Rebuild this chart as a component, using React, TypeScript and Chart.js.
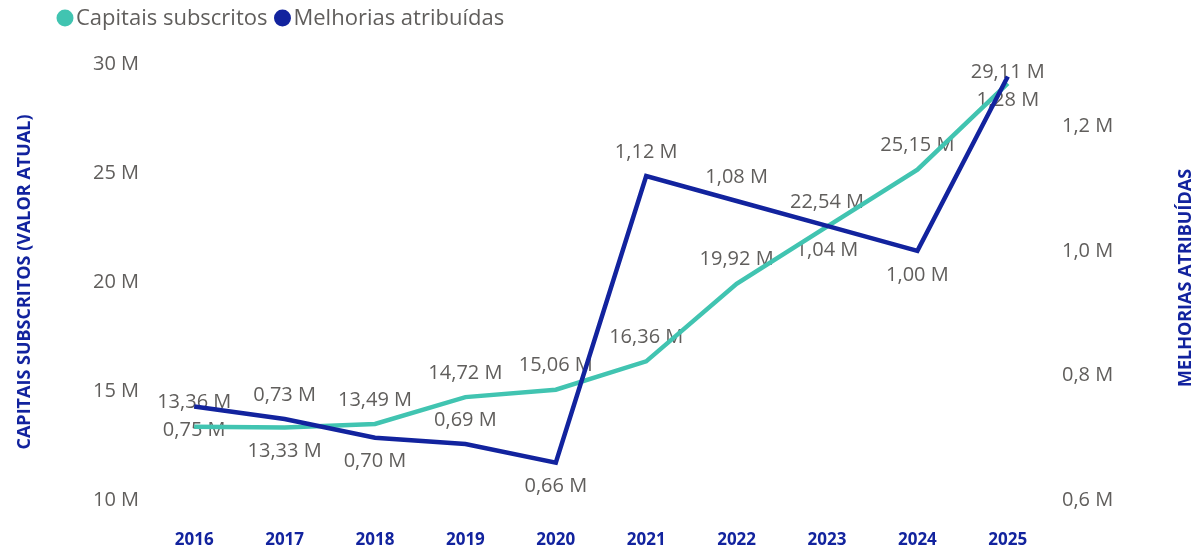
import React, { useEffect, useRef } from "react";
import { Chart, registerables } from "chart.js";

Chart.register(...registerables);

const years = ["2016", "2017", "2018", "2019", "2020", "2021", "2022", "2023", "2024", "2025"];
const capitais = [13.36, 13.33, 13.49, 14.72, 15.06, 16.36, 19.92, 22.54, 25.15, 29.11];
const melhorias = [0.75, 0.73, 0.7, 0.69, 0.66, 1.12, 1.08, 1.04, 1.0, 1.28];
// +1 = label below the point, -1 = label above
const capitaisLabelSide = [-1, 1, -1, -1, -1, -1, -1, -1, -1, -1];
const melhoriasLabelSide = [1, -1, 1, -1, 1, -1, -1, 1, 1, 1];
const leftTicks = [10, 15, 20, 25, 30];
const rightTicks = [0.6, 0.8, 1.0, 1.2];
const seriesNames = ["Capitais subscritos", "Melhorias atribuídas"];
const leftTitle = "CAPITAIS SUBSCRITOS (VALOR ATUAL)";
const rightTitle = "MELHORIAS ATRIBUÍDAS";

const TEAL = "#41C4B1";
const NAVY = "#12239E";
const GREY = "#605E5C";
const FONT = "'Open Sans', 'Noto Sans', sans-serif";

const fmt2 = (v: number) => v.toFixed(2).replace(".", ",") + " M";
const fmtRight = (v: number) => v.toFixed(1).replace(".", ",") + " M";

const overlayPlugin = {
  id: "overlay",
  beforeDatasetsDraw(chart: any) {
    const ctx = chart.ctx;
    const area = chart.chartArea;
    ctx.save();
    ctx.font = `20px ${FONT}`;
    ctx.fillStyle = GREY;
    ctx.textAlign = "center";
    ctx.textBaseline = "middle";
    chart.data.datasets.forEach((ds: any, di: number) => {
      const meta = chart.getDatasetMeta(di);
      const sides = di === 0 ? capitaisLabelSide : melhoriasLabelSide;
      meta.data.forEach((el: any, i: number) => {
        let y = el.y + sides[i] * 24;
        if (y < area.top + 8) y = area.top + 8;
        ctx.fillText(fmt2(ds.data[i]), el.x, y);
      });
    });
    ctx.restore();
  },
  afterDraw(chart: any) {
    const ctx = chart.ctx;
    const area = chart.chartArea;
    ctx.save();
    // legend
    ctx.font = `22px ${FONT}`;
    ctx.textBaseline = "middle";
    ctx.textAlign = "left";
    let x = 65;
    const ly = 19;
    [TEAL, NAVY].forEach((c, i) => {
      ctx.beginPath();
      ctx.fillStyle = c;
      ctx.arc(x, ly - 1, 8.5, 0, Math.PI * 2);
      ctx.fill();
      ctx.fillStyle = GREY;
      ctx.fillText(seriesNames[i], x + 11, ly);
      x = x + 11 + ctx.measureText(seriesNames[i]).width + 15;
    });
    // axis titles
    ctx.font = `bold 18px ${FONT}`;
    ctx.fillStyle = NAVY;
    ctx.textAlign = "center";
    ctx.textBaseline = "middle";
    const cy = (area.top + area.bottom) / 2;
    ctx.save();
    ctx.translate(25, cy);
    ctx.rotate(-Math.PI / 2);
    ctx.fillText(leftTitle, 0, 0);
    ctx.restore();
    ctx.save();
    ctx.translate(1186, cy - 4);
    ctx.rotate(-Math.PI / 2);
    ctx.fillText(rightTitle, 0, 0);
    ctx.restore();
    ctx.restore();
  },
};

export default function App() {
  const ref = useRef<HTMLCanvasElement | null>(null);
  useEffect(() => {
    if (!ref.current) return;
    const chart = new Chart(ref.current, {
      type: "line",
      data: {
        labels: years,
        datasets: [
          {
            label: seriesNames[0],
            data: capitais,
            borderColor: TEAL,
            backgroundColor: TEAL,
            borderWidth: 4.5,
            pointRadius: 0,
            tension: 0,
            yAxisID: "y",
            order: 1,
          },
          {
            label: seriesNames[1],
            data: melhorias,
            borderColor: NAVY,
            backgroundColor: NAVY,
            borderWidth: 4.5,
            pointRadius: 0,
            tension: 0,
            yAxisID: "y1",
            order: 0,
          },
        ],
      },
      options: {
        responsive: false,
        animation: false,
        devicePixelRatio: 1,
        layout: { padding: { top: 64, left: 0, right: 0, bottom: 0 } },
        plugins: { legend: { display: false }, tooltip: { enabled: false } },
        scales: {
          x: {
            type: "category",
            offset: true,
            grid: { display: false, drawTicks: false },
            border: { display: false },
            ticks: {
              color: NAVY,
              font: { family: FONT, size: 17, weight: "bold" },
              padding: 30,
              maxRotation: 0,
            },
            afterFit: (s: any) => {
              s.height = 49;
            },
          },
          y: {
            type: "linear",
            position: "left",
            min: 10,
            max: 30,
            grid: { display: false, drawTicks: false },
            border: { display: false },
            ticks: {
              color: GREY,
              font: { family: FONT, size: 20 },
              padding: 10,
              callback: (v: any) => `${v} M`,
            },
            afterBuildTicks: (s: any) => {
              s.ticks = leftTicks.map((v) => ({ value: v }));
            },
            afterFit: (s: any) => {
              s.width = 149;
            },
          },
          y1: {
            type: "linear",
            position: "right",
            min: 0.6,
            max: 1.3,
            grid: { display: false, drawTicks: false },
            border: { display: false },
            ticks: {
              color: GREY,
              font: { family: FONT, size: 20 },
              padding: 9,
              callback: (v: any) => fmtRight(Number(v)),
            },
            afterBuildTicks: (s: any) => {
              s.ticks = rightTicks.map((v) => ({ value: v }));
            },
            afterFit: (s: any) => {
              s.width = 144;
            },
          },
        },
      },
      plugins: [overlayPlugin],
    });
    return () => chart.destroy();
  }, []);
  return (
    <div style={{ position: "absolute", left: 0, top: 0, width: 1197, height: 549, background: "#fff" }}>
      <canvas ref={ref} width={1197} height={549} style={{ width: 1197, height: 549 }} />
    </div>
  );
}
